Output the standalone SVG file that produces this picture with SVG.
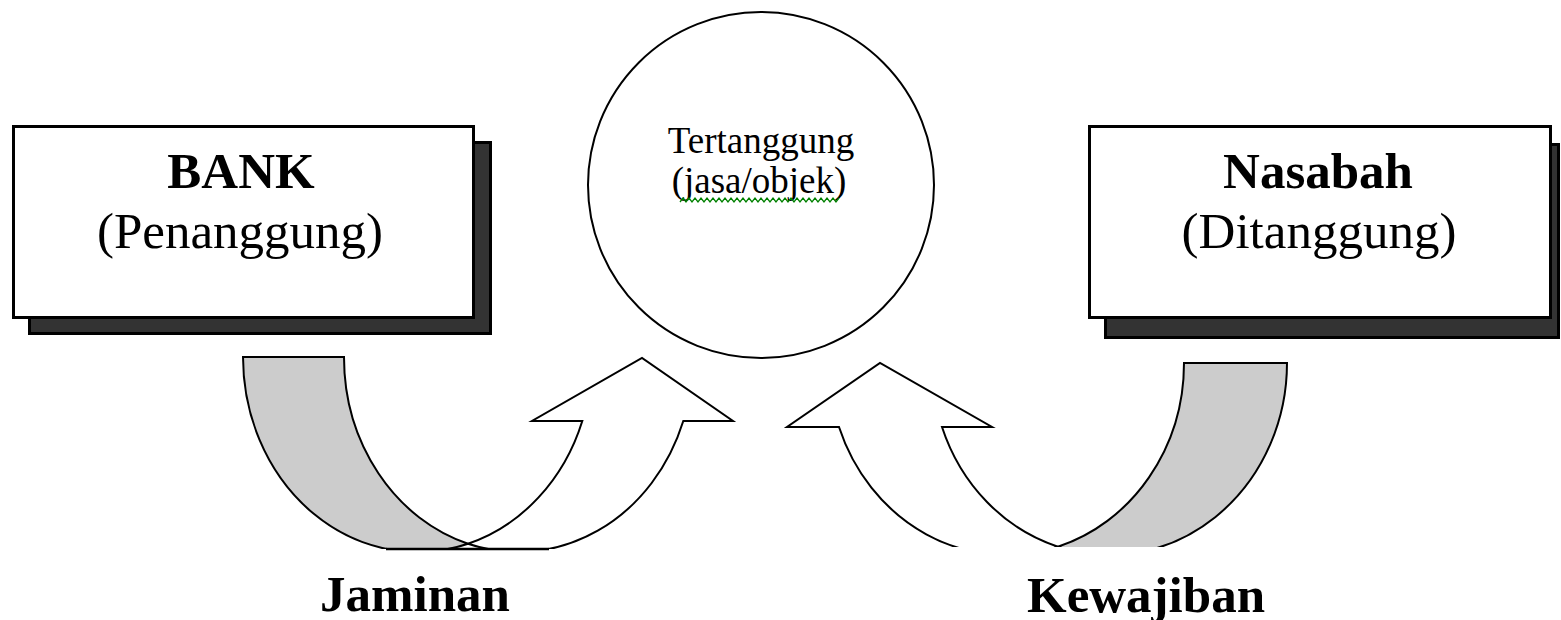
<svg xmlns="http://www.w3.org/2000/svg" width="1561" height="620" viewBox="0 0 1561 620">
  <style>
    .box { fill: #ffffff; stroke: #000000; stroke-width: 3; }
    .shadow { fill: #333333; stroke: #000000; stroke-width: 3; }
    .band { fill: #cccccc; stroke: #000000; stroke-width: 2; stroke-linejoin: miter; }
    .arrow { fill: #ffffff; stroke: #000000; stroke-width: 2; stroke-linejoin: miter; }
    .title { font-family: "Liberation Serif", "Times New Roman", serif; font-weight: bold; font-size: 51px; fill: #000000; text-anchor: middle; }
    .sub { font-family: "Liberation Serif", "Times New Roman", serif; font-size: 51px; fill: #000000; text-anchor: middle; }
    .small { font-family: "Liberation Serif", "Times New Roman", serif; font-size: 37px; fill: #000000; text-anchor: middle; }
  </style>
  <defs>
    <clipPath id="clipLeft"><rect x="0" y="300" width="800" height="249"/></clipPath>
    <clipPath id="clipRight"><rect x="760" y="300" width="800" height="247"/></clipPath>
  </defs>

  <rect width="1561" height="620" fill="#ffffff"/>

  <!-- Bank box -->
  <g id="bank">
    <rect class="shadow" x="29.5" y="142.5" width="461" height="191"/>
    <rect class="box" x="13.5" y="126.5" width="460" height="191"/>
    <text class="title" x="241" y="188">BANK</text>
    <text class="sub" x="240" y="248">(Penanggung)</text>
  </g>

  <!-- Insured object circle -->
  <g id="tertanggung">
    <circle cx="761" cy="185" r="173" fill="#ffffff" stroke="#000000" stroke-width="2"/>
    <text class="small" x="761" y="153">Tertanggung</text>
    <text class="small" x="759" y="193">(jasa/objek)</text>
    <polyline fill="none" stroke="#008000" stroke-width="1.3" points="680,202 683,198 686,202 689,198 692,202 695,198 698,202 701,198 704,202 707,198 710,202 713,198 716,202 719,198 722,202 725,198 728,202 731,198 734,202 737,198 740,202 743,198 746,202 749,198 752,202 755,198 758,202 761,198 764,202 767,198 770,202 773,198 776,202 779,198 782,202 785,198 788,202 791,198 794,202 797,198 800,202 803,198 806,202 809,198 812,202 815,198 818,202 821,198 824,202 827,198 830,202 833,198 836,202 839,198"/>
  </g>

  <!-- Customer box -->
  <g id="nasabah">
    <rect class="shadow" x="1105.5" y="144.5" width="453" height="193"/>
    <rect class="box" x="1089.5" y="126.5" width="461" height="191"/>
    <text class="title" x="1318" y="188">Nasabah</text>
    <text class="sub" x="1319" y="248">(Ditanggung)</text>
  </g>

  <!-- Curved arrows -->
  <g id="connectors">
    <g id="jaminan-arrow" clip-path="url(#clipLeft)">
      <path class="band" d="M243,357 L344,357 A174.5,195 0 0 0 468,543.7 A174.5,195 0 0 1 243,357 Z"/>
      <path class="arrow" d="M468,543.7 A174.5,195 0 0 0 582.3,421 L532,421 L642,358 L733,421 L683.3,421 A174.5,195 0 0 1 468,543.7 Z"/>
    </g>
    <line x1="386" y1="549" x2="549" y2="549" stroke="#000000" stroke-width="2.5"/>
    <g id="kewajiban-arrow" clip-path="url(#clipRight)">
      <path class="band" d="M1287,363 L1184,363 A177.6,192 0 0 1 1057.9,546.7 A177.6,192 0 0 0 1287,363 Z"/>
      <path class="arrow" d="M1057.9,546.7 A177.6,192 0 0 1 942,427 L992,427 L880,363 L787,427 L839,427 A177.6,192 0 0 0 1057.9,546.7 Z"/>
    </g>
  </g>

  <!-- Flow labels -->
  <g id="label-jaminan">
    <text class="title" x="415" y="611">Jaminan</text>
  </g>
  <g id="label-kewajiban">
    <text class="title" x="1146" y="612">Kewajiban</text>
  </g>
</svg>
